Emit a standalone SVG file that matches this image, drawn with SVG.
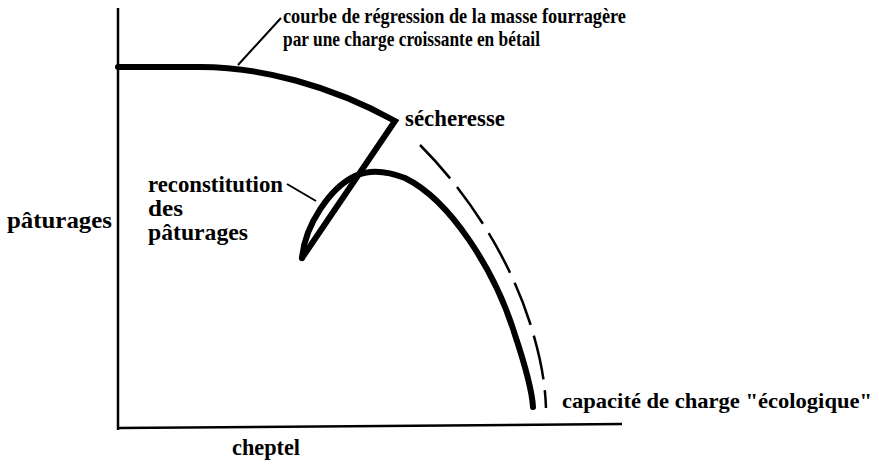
<svg xmlns="http://www.w3.org/2000/svg" width="879" height="467" viewBox="0 0 879 467">
<style>
text{font-family:"Liberation Serif","Times New Roman",serif;font-weight:bold;fill:#000}
.t{font-size:22px}
.l{font-size:23.5px}
.c{font-size:22px}
.axis{stroke:#000;stroke-width:2.5;fill:none}
.thick{stroke:#000;stroke-width:6;fill:none;stroke-linecap:round;stroke-linejoin:miter}
.dash{stroke:#000;stroke-width:2.5;fill:none;stroke-dasharray:45 11}
.lead{stroke:#000;stroke-width:2;fill:none}
</style>
<rect width="879" height="467" fill="#fff"/>
<g id="axes">
<line class="axis" x1="118" y1="8" x2="118" y2="430"/>
<line class="axis" x1="117" y1="428" x2="622" y2="424"/>
</g>
<g id="connectors">
<path id="regression" class="thick" d="M118,67 L200,67 C260,67 330,85 395,121 L302,258"/>
<path id="reconstitution-curve" class="thick" d="M302,258 C305,225 330,188 355,176 C368,170 385,170 405,178 C450,200 495,270 515,335 C525,365 532,390 533,407"/>
<path id="capacite-curve" class="dash" d="M420,145 C470,195 510,260 530,323 C540,355 545,380 546,408"/>
<line class="lead" x1="238" y1="65" x2="281" y2="18"/>
<line class="lead" x1="287" y1="184" x2="316" y2="201"/>
</g>
<g id="title">
<text class="t" x="283" y="23" textLength="343" lengthAdjust="spacingAndGlyphs">courbe de régression de la masse fourragère</text>
<text class="t" x="283" y="46" textLength="257" lengthAdjust="spacingAndGlyphs">par une charge croissante en bétail</text>
</g>
<g id="secheresse"><text class="l" x="405" y="126" textLength="100" lengthAdjust="spacingAndGlyphs">sécheresse</text></g>
<g id="reconstitution">
<text class="l" x="148" y="192" textLength="135" lengthAdjust="spacingAndGlyphs">reconstitution</text>
<text class="l" x="148" y="216" textLength="35" lengthAdjust="spacingAndGlyphs">des</text>
<text class="l" x="148" y="240" textLength="100" lengthAdjust="spacingAndGlyphs">pâturages</text>
</g>
<g id="paturages"><text class="l" x="7" y="228" textLength="105" lengthAdjust="spacingAndGlyphs">pâturages</text></g>
<g id="cheptel"><text class="l" x="232" y="455" textLength="68" lengthAdjust="spacingAndGlyphs">cheptel</text></g>
<g id="capacite"><text class="c" x="562" y="408" textLength="310" lengthAdjust="spacingAndGlyphs">capacité de charge "écologique"</text></g>
</svg>
